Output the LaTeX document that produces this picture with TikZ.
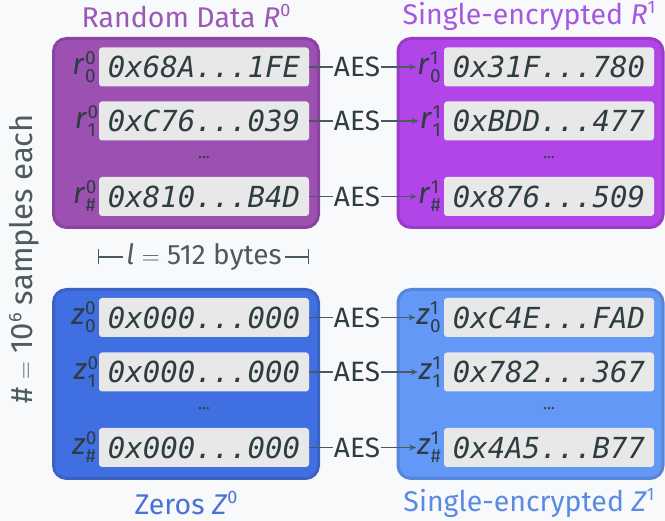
\documentclass[tikz,border=0pt]{standalone}
\usepackage{fontspec}
\usepackage{amsmath}
\IfFontExistsTF{FiraSans-Light.otf}
  {\setmainfont{FiraSans-Light.otf}[ItalicFont=FiraSans-LightItalic.otf]}
  {\setmainfont{Fira Sans}}
\newfontfamily\hexfont{DejaVu Sans Mono}
\usetikzlibrary{arrows.meta}
\definecolor{bgc}{HTML}{F8F9FA}
\definecolor{txt}{HTML}{2E3D41}
\definecolor{cellc}{HTML}{E8E8E8}
\definecolor{pAfill}{HTML}{9B50B2}
\definecolor{pAdraw}{HTML}{8A449F}
\definecolor{pBfill}{HTML}{B145E8}
\definecolor{pBdraw}{HTML}{9A3CC9}
\definecolor{bAfill}{HTML}{3F6FE0}
\definecolor{bAdraw}{HTML}{3A62C4}
\definecolor{bBfill}{HTML}{6498F7}
\definecolor{bBdraw}{HTML}{5586DC}
\definecolor{tpA}{HTML}{9B59B6}
\definecolor{tpB}{HTML}{A659DE}
\definecolor{tbA}{HTML}{4A72D6}
\definecolor{tbB}{HTML}{5B8AE4}
\definecolor{linec}{HTML}{4A5A5E}
\newcommand\lbl[3]{\textit{#1}\kern0.5pt\rlap{\raisebox{10pt}{\fontsize{19}{19}\selectfont #2}}\raisebox{-8pt}{\fontsize{19}{19}\selectfont #3}}
\newcommand\supx[1]{\raisebox{11pt}{\fontsize{18}{18}\selectfont #1}}
\begin{document}
\begin{tikzpicture}[x=1pt,y=-1pt,
  grp/.style={line width=3pt, rounded corners=13pt, minimum width=265pt, minimum height=189pt, inner sep=0pt},
  cell/.style={fill=cellc, rounded corners=3pt, minimum width=210pt, minimum height=39pt, inner sep=0pt,
    font=\hexfont\itshape\fontsize{29}{30}\selectfont, text=txt},
  rowlbl/.style={anchor=east, inner sep=1pt, text=txt, font=\fontsize{30}{30}\selectfont},
  aes/.style={inner sep=1pt, text=txt, font=\fontsize{28}{30}\selectfont},
  conn/.style={draw=linec, line width=1.2pt},
  dotsn/.style={text=txt, font=\fontsize{16}{18}\selectfont},
  ttl/.style={font=\fontsize{28.5}{30}\selectfont},
  note/.style={text=txt!85, font=\fontsize{28}{30}\selectfont}
]
\fill[bgc] (0,0) rectangle (665,521);
\useasboundingbox (0,0) rectangle (665,521);

% group boxes
\node[grp, draw=pAdraw, fill=pAfill] (gR0) at (186,133) {};
\node[grp, draw=pBdraw, fill=pBfill] (gR1) at (530.5,133) {};
\node[grp, draw=bAdraw, fill=bAfill] (gZ0) at (186,384) {};
\node[grp, draw=bBdraw, fill=bBfill] (gZ1) at (530.5,384) {};

% titles
\node[ttl, text=tpA] (tR0) at (186,16) {Random Data \textit{R}\supx{0}};
\node[ttl, text=tpB] (tR1) at (529,16) {Single-encrypted \textit{R}\supx{1}};
\node[ttl, text=tbA] (tZ0) at (186,503) {Zeros \textit{Z}\supx{0}};
\node[ttl, text=tbB] (tZ1) at (529,503) {Single-encrypted \textit{Z}\supx{1}};

% R0
\node[cell] (a0) at (204,67) {0x68A...1FE};
\node[cell] (a1) at (204,121) {0xC76...039};
\node[cell] (a2) at (204,196.5) {0x810...B4D};
\node[rowlbl] (la0) at (97,67) {\lbl{r}{0}{0}};
\node[rowlbl] (la1) at (97,121) {\lbl{r}{0}{1}};
\node[rowlbl] (la2) at (97,196.5) {\lbl{r}{0}{\#}};
\node[dotsn] (da) at (204,158) {...};

% R1
\node[cell] (b0) at (549,67) {0x31F...780};
\node[cell] (b1) at (549,121) {0xBDD...477};
\node[cell] (b2) at (549,196.5) {0x876...509};
\node[rowlbl] (lb0) at (442,67) {\lbl{r}{1}{0}};
\node[rowlbl] (lb1) at (442,121) {\lbl{r}{1}{1}};
\node[rowlbl] (lb2) at (442,196.5) {\lbl{r}{1}{\#}};
\node[dotsn] (db) at (549,158) {...};

% Z0
\node[cell] (c0) at (204,317.5) {0x000...000};
\node[cell] (c1) at (204,372) {0x000...000};
\node[cell] (c2) at (204,447.5) {0x000...000};
\node[rowlbl] (lc0) at (97,317.5) {\lbl{z}{0}{0}};
\node[rowlbl] (lc1) at (97,372) {\lbl{z}{0}{1}};
\node[rowlbl] (lc2) at (97,447.5) {\lbl{z}{0}{\#}};
\node[dotsn] (dc) at (204,409) {...};

% Z1
\node[cell] (e0) at (549,317.5) {0xC4E...FAD};
\node[cell] (e1) at (549,372) {0x782...367};
\node[cell] (e2) at (549,447.5) {0x4A5...B77};
\node[rowlbl] (le0) at (442,317.5) {\lbl{z}{1}{0}};
\node[rowlbl] (le1) at (442,372) {\lbl{z}{1}{1}};
\node[rowlbl] (le2) at (442,447.5) {\lbl{z}{1}{\#}};
\node[dotsn] (de) at (549,409) {...};

% AES connectors
\foreach \s/\t/\y in {a0/lb0/67, a1/lb1/121, a2/lb2/196.5, c0/le0/317.5, c1/le1/372, c2/le2/447.5}{
  \node[aes] (aes-\s) at (357,\y) {AES};
  \draw[conn] (\s.east) -- (aes-\s.west);
  \draw[conn, -{Stealth[length=7pt,width=6pt]}] (aes-\s.east) -- (\t.west);
}

% length annotation
\node[note, inner sep=3pt] (len) at (204,257) {\textit{l} $=$ 512 bytes};
\coordinate (lenL) at (98,257);
\coordinate (lenR) at (309,257);
\draw[conn, {Bar[width=15pt]}-] (lenL) -- (len.west);
\draw[conn, -{Bar[width=15pt]}] (len.east) -- (lenR);

% side annotation
\node[note, rotate=90, font=\fontsize{31}{34}\selectfont] (cnt) at (24,259) {\# $=$ 10\supx{6} samples each};
\end{tikzpicture}
\end{document}
